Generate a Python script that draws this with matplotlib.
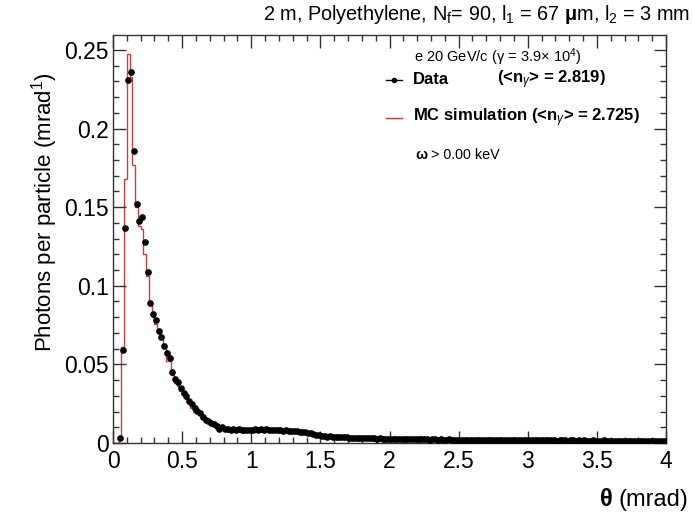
import numpy as np
import matplotlib
matplotlib.use("Agg")
from matplotlib import pyplot as plt
from matplotlib.ticker import MultipleLocator
from matplotlib.lines import Line2D

plt.rcParams["font.family"] = ["Liberation Sans", "DejaVu Sans"]
plt.rcParams["mathtext.fontset"] = "custom"
plt.rcParams["mathtext.rm"] = "Liberation Sans"
plt.rcParams["mathtext.it"] = "Liberation Sans:italic"
plt.rcParams["mathtext.bf"] = "Liberation Sans:bold"

# binning: 0 - 4 mrad, 0.02 mrad bins
bin_width = 0.02
n_bins = 200

# data, photons per particle per bin (nan = empty bin)
data_head = [np.nan, np.nan, 0.003, 0.059, 0.1365, 0.231, 0.236, 0.186, 0.152, 0.141,
             0.144, 0.128, 0.109, 0.089, 0.082, 0.0785, 0.071, 0.0675, 0.062, 0.057,
             0.054, 0.045, 0.0405, 0.039, 0.035, 0.032, 0.0297, 0.0268, 0.0245, 0.0222,
             0.0205, 0.019, 0.0165, 0.0148, 0.0137, 0.0127, 0.012, 0.011, 0.009, 0.010]
data_mid = [0.0092, 0.0088, 0.0085, 0.0087, 0.0083, 0.0086, 0.0082, 0.0084, 0.0081, 0.0083,
            0.0085, 0.0088, 0.0084, 0.0086, 0.0083, 0.0087, 0.0082, 0.0085, 0.0080, 0.0083,
            0.0081, 0.0079, 0.0082, 0.0077, 0.0079, 0.0075, 0.0077, 0.0072, 0.0073, 0.0069,
            0.0066, 0.0062, 0.0059, 0.0054, 0.0050,
            0.0046, 0.0044, 0.0041, 0.0042, 0.0039, 0.0038, 0.0037, 0.0038, 0.0035, 0.0036,
            0.0034, 0.0033, 0.0034, 0.0032, 0.0033, 0.0031, 0.0030, 0.0031, 0.0029, 0.0030,
            0.0028, 0.0029, 0.0027, 0.0028, 0.0027]
data_tail = [0.0027, 0.0026, 0.0027, 0.0025, 0.0026, 0.0024, 0.0025, 0.0026, 0.0024, 0.0023,
             0.0025, 0.0024, 0.0023, 0.0024, 0.0022, 0.0023, 0.0024, 0.0022, 0.0023, 0.0021,
             0.0022, 0.0023, 0.0021, 0.0022, 0.0021,
             0.0022, 0.0020, 0.0021, 0.0022, 0.0020, 0.0021, 0.0019, 0.0020, 0.0021, 0.0019,
             0.0020, 0.0019, 0.0020, 0.0018, 0.0019, 0.0020, 0.0018, 0.0019, 0.0018, 0.0019,
             0.0017, 0.0018, 0.0019, 0.0017, 0.0018,
             0.0018, 0.0017, 0.0018, 0.0016, 0.0017, 0.0018, 0.0016, 0.0017, 0.0016, 0.0017,
             0.0015, 0.0016, 0.0017, 0.0016, 0.0015, 0.0016, 0.0017, 0.0015, 0.0016, 0.0015,
             0.0016, 0.0014, 0.0015, 0.0016, 0.0015,
             0.0015, 0.0014, 0.0016, 0.0015, 0.0014, 0.0015, 0.0014, 0.0015, 0.0013, 0.0014,
             0.0015, 0.0014, 0.0013, 0.0014, 0.0015, 0.0013, 0.0014, 0.0013, 0.0014, 0.0013,
             0.0014, 0.0012, 0.0013, 0.0014, 0.0013]

# MC simulation histogram
mc_head = [0.0, 0.0, 0.002, 0.061, 0.168, 0.2475, 0.233, 0.177, 0.150, 0.138,
           0.136, 0.120, 0.106, 0.088, 0.080, 0.076, 0.070, 0.066, 0.061, 0.052,
           0.052, 0.043, 0.038, 0.036, 0.033, 0.031, 0.028, 0.025, 0.0225, 0.020,
           0.019, 0.0175, 0.015, 0.0135, 0.0125, 0.0115, 0.0105, 0.0098, 0.0085, 0.0088]
mc_mid = [0.0080, 0.0078, 0.0077, 0.0079, 0.0076, 0.0078, 0.0075, 0.0077, 0.0076, 0.0078,
          0.0079, 0.0077, 0.0080, 0.0078, 0.0076, 0.0079, 0.0077, 0.0075, 0.0076, 0.0074,
          0.0075, 0.0073, 0.0074, 0.0071, 0.0072, 0.0069, 0.0070, 0.0067, 0.0066, 0.0064,
          0.0062, 0.0058, 0.0054, 0.0050, 0.0046,
          0.0042, 0.0040, 0.0038, 0.0037, 0.0036, 0.0035, 0.0034, 0.0033, 0.0033, 0.0032,
          0.0031, 0.0030, 0.0030, 0.0029, 0.0029, 0.0028, 0.0027, 0.0027, 0.0026, 0.0026,
          0.0025, 0.0025, 0.0024, 0.0024, 0.0024]
mc_tail = [0.0023, 0.0023, 0.0023, 0.0022, 0.0022, 0.0022, 0.0021, 0.0021, 0.0021, 0.0021,
           0.0020, 0.0020, 0.0020, 0.0020, 0.0019, 0.0019, 0.0019, 0.0019, 0.0019, 0.0018,
           0.0018, 0.0018, 0.0018, 0.0018, 0.0017,
           0.0017, 0.0017, 0.0017, 0.0017, 0.0017, 0.0016, 0.0016, 0.0016, 0.0016, 0.0016,
           0.0016, 0.0016, 0.0015, 0.0015, 0.0015, 0.0015, 0.0015, 0.0015, 0.0015, 0.0015,
           0.0014, 0.0014, 0.0014, 0.0014, 0.0014,
           0.0014, 0.0014, 0.0014, 0.0014, 0.0013, 0.0013, 0.0013, 0.0013, 0.0013, 0.0013,
           0.0013, 0.0013, 0.0013, 0.0013, 0.0013, 0.0012, 0.0012, 0.0012, 0.0012, 0.0012,
           0.0012, 0.0012, 0.0012, 0.0012, 0.0012,
           0.0012, 0.0012, 0.0011, 0.0011, 0.0011, 0.0011, 0.0011, 0.0011, 0.0011, 0.0011,
           0.0011, 0.0011, 0.0011, 0.0011, 0.0011, 0.0011, 0.0011, 0.0010, 0.0010, 0.0010,
           0.0010, 0.0010, 0.0010, 0.0010, 0.0010]

x_ticks = [0, 0.5, 1, 1.5, 2, 2.5, 3, 3.5, 4]
x_ticklabels = ["0", "0.5", "1", "1.5", "2", "2.5", "3", "3.5", "4"]
y_ticks = [0, 0.05, 0.1, 0.15, 0.2, 0.25]
y_ticklabels = ["0", "0.05", "0.1", "0.15", "0.2", "0.25"]

data = np.array(data_head + data_mid + data_tail)
mc = np.array(mc_head + mc_mid + mc_tail)

edges = np.arange(n_bins + 1) * bin_width
centers = edges[:-1] + bin_width / 2

mc_color = "#c8403c"

fig = plt.figure(figsize=(6.93, 5.16), dpi=100)
ax = fig.add_axes([113/693, 1-443/516, (666-113)/693, (443-35)/516])

ax.stairs(mc, edges, color=mc_color, lw=1.0, baseline=None)
ax.plot(centers, data, "o", color="black", ms=3.8, zorder=3)

ax.set_xlim(0, 4)
ax.set_ylim(0, 0.2595)
ax.xaxis.set_minor_locator(MultipleLocator(0.1))
ax.yaxis.set_minor_locator(MultipleLocator(0.01))
ax.set_xticks(x_ticks)
ax.set_xticklabels(x_ticklabels)
ax.set_yticks(y_ticks)
ax.set_yticklabels(y_ticklabels)
ax.tick_params(which="both", direction="in", top=True, right=True, labelsize=16.5,
               width=1, color="#333333")
ax.tick_params(which="major", length=9)
ax.tick_params(which="minor", length=4.5)
ax.tick_params(axis="x", pad=5)
ax.tick_params(axis="y", pad=3)
for s in ax.spines.values():
    s.set_color("#333333")
    s.set_linewidth(1)

# axis titles
fig.text(45/693, 1-212/516, "Photons per particle (mrad$^{1}$)", rotation=90,
         ha="center", va="center", fontsize=16)
fig.text(688/693, 1-500/516, "(mrad)", ha="right", va="center", fontsize=17)
fig.text(613/693, 1-500/516, "θ", ha="right", va="center", fontsize=17, fontweight="bold")

# title
fig.text(690/693, 1-14/516,
         r"2 m, Polyethylene, N$_{\mathrm{f}}$= 90, l$_{1}$ = 67 $\mathbf{\mu}$m, l$_{2}$ = 3 mm",
         ha="right", va="center", fontsize=14.3)

# legend
fig.text(414/693, 1-57/516, "e 20 GeV/c (γ = 3.9× 10$^{4}$)", ha="left", va="center", fontsize=10.5)
fig.add_artist(Line2D([386/693, 402/693], [1-80/516, 1-80/516], color="black", lw=1))
fig.add_artist(Line2D([394/693], [1-80/516], marker="o", ms=3, color="black"))
fig.text(413/693, 1-80/516, "Data", ha="left", va="center", fontsize=12, fontweight="bold")
fig.text(497/693, 1-80/516, r"(<n$_{\gamma}$> = 2.819)", ha="left", va="center",
         fontsize=12, fontweight="bold")
fig.add_artist(Line2D([386/693, 402/693], [1-118/516, 1-118/516], color=mc_color, lw=1))
fig.text(413/693, 1-118/516, r"MC simulation (<n$_{\gamma}$> = 2.725)", ha="left", va="center",
         fontsize=12, fontweight="bold")
fig.text(415/693, 1-155/516, "ω", ha="left", va="center", fontsize=10.3, fontweight="bold")
fig.text(431/693, 1-155/516, "> 0.00 keV", ha="left", va="center", fontsize=10.3)

fig.savefig("out.png", dpi=100)
